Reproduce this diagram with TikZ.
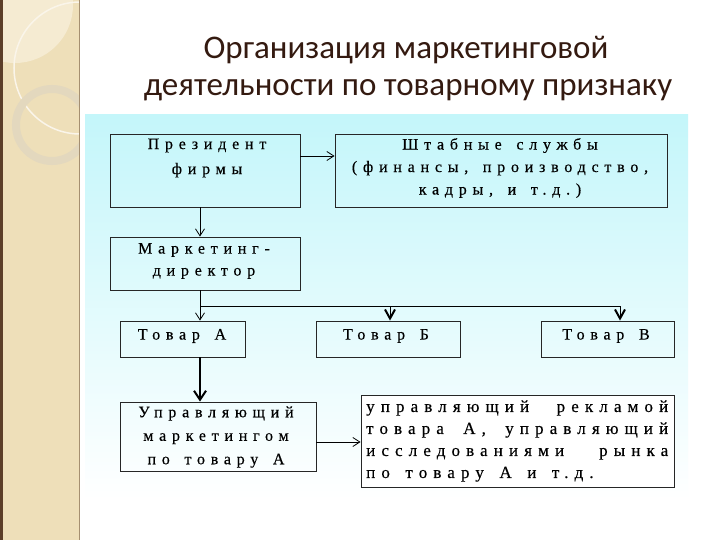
\documentclass[tikz,border=0pt]{standalone}
\usepackage{fontspec}
\setmainfont{Liberation Serif}
\newfontfamily\titlefont{Carlito}
\newfontfamily\boxfont[LetterSpace=36,FakeBold=0.35,WordSpace=1.5]{Liberation Serif}
\usetikzlibrary{arrows.meta,calc}
\definecolor{titlecol}{RGB}{52,26,16}
\definecolor{beige}{RGB}{238,223,185}
\definecolor{beigelight}{RGB}{245,235,210}
\definecolor{ringcol}{RGB}{227,216,190}
\definecolor{stripedge}{RGB}{92,62,40}
\definecolor{cyanbg}{RGB}{196,246,250}
\tikzset{
  box/.style={draw=black!85, line width=0.9pt, inner sep=0pt},
  btext/.style={font=\boxfont\fontsize{16}{23}\selectfont, align=center, inner sep=0pt, text=black},
  titletext/.style={font=\titlefont\fontsize{33}{38}\selectfont, text=titlecol, inner sep=0pt},
  thinarrow/.style={draw=black, line width=0.8pt, -{Straight Barb[length=7pt,width=9pt,line width=0.8pt]}},
  thickhead/.style={draw=black, line width=0.9pt, -{Straight Barb[length=9pt,width=10pt,line width=2pt]}},
  thickarrow/.style={draw=black, line width=2pt, -{Straight Barb[length=9pt,width=12pt,line width=2pt]}}
}
\begin{document}
\begin{tikzpicture}[x=1pt,y=-1pt]
\useasboundingbox (0,0) rectangle (720,540);
\fill[white] (0,0) rectangle (720,540);
% left decorative strip
\begin{scope}
  \clip (0,0) rectangle (79,540);
  \fill[beige] (0,0) rectangle (79,540);
  \fill[beigelight] (15,5) circle[radius=58];
  \draw[white!70!beige, line width=1.5pt] (80,68) circle[radius=66];
  \draw[ringcol, line width=8pt] (52,125) circle[radius=36];
\end{scope}
\draw[stripedge, line width=2.5pt] (1.25,0) -- (1.25,540);
\draw[stripedge!50!beige, line width=0.8pt] (79,0) -- (79,540);
% background gradient
\shade[top color=cyanbg, bottom color=white] (85,115) rectangle (688,500);
% title
\node[titletext] (t1) at (406,50) {Организация маркетинговой};
\node[titletext] (t2) at (408,90) {деятельности по товарному признаку};
% boxes
\node[box, minimum width=190pt, minimum height=73pt] (pres) at (205,170.5) {};
\node[box, minimum width=332pt, minimum height=73pt] (staff) at (501,170.5) {};
\node[box, minimum width=190pt, minimum height=53pt] (dir) at (205,263.5) {};
\node[box, minimum width=125pt, minimum height=36pt] (ta) at (182.5,339) {};
\node[box, minimum width=144pt, minimum height=36pt] (tb) at (388,339) {};
\node[box, minimum width=133pt, minimum height=36pt] (tv) at (607.5,339) {};
\node[box, minimum width=196pt, minimum height=69pt] (upr) at (218,436.5) {};
\node[box, fill=white, minimum width=313pt, minimum height=92pt] (rec) at (517.5,441) {};
% texts
\node[btext, font=\boxfont\fontsize{16}{25}\selectfont] (prest) at (207,158) {Президент\\фирмы};
\node[btext, font=\boxfont\fontsize{16}{22.5}\selectfont] (stafft) at (500,168) {Штабные службы\\(финансы, производство,\\кадры, и т.д.)};
\node[btext, font=\boxfont\fontsize{16}{22}\selectfont] (dirt) at (204,261) {Маркетинг-\\директор};
\node[btext] (tat) at (182,336) {Товар А};
\node[btext] (tbt) at (386,336) {Товар Б};
\node[btext] (tvt) at (606,336) {Товар В};
\node[btext, font=\boxfont\fontsize{16}{23.5}\selectfont] (uprt) at (216,437) {Управляющий\\маркетингом\\по товару А};
\node[btext, align=left, anchor=west, font=\boxfont\fontsize{17}{22}\selectfont] (rect) at (366,441)
  {\makebox[302pt][s]{управляющий рекламой}\\
   \makebox[302pt][s]{товара А, управляющий}\\
   \makebox[302pt][s]{исследованиями рынка}\\
   по товару А и т.д.};
% connectors
\draw[thinarrow] ([yshift=14.5pt]pres.east) -- ([yshift=14.5pt]pres.east -| staff.west);
\draw[thinarrow] ([xshift=-5pt]pres.south) -- ([xshift=-5pt]dir.north);
\coordinate (bus) at ([xshift=-5pt]dir.south |- 0,306);
\coordinate (busend) at ([xshift=12.5pt]tv.north |- bus);
\draw[thinarrow] ([xshift=-5pt]dir.south) -- ([xshift=-5pt]dir.south |- ta.north);
\draw[black, line width=0.9pt] (bus) -- (busend);
\draw[thickhead] ([xshift=2pt]tb.north |- bus) -- ([xshift=2pt]tb.north);
\draw[thickhead] (busend) -- ([xshift=12.5pt]tv.north);
\draw[thickarrow] ([xshift=17.5pt]ta.south) -- ([xshift=17.5pt]ta.south |- upr.north);
\draw[thinarrow] ([yshift=-5.5pt]upr.east) -- ([yshift=-5.5pt]upr.east -| rec.west);
\end{tikzpicture}
\end{document}
